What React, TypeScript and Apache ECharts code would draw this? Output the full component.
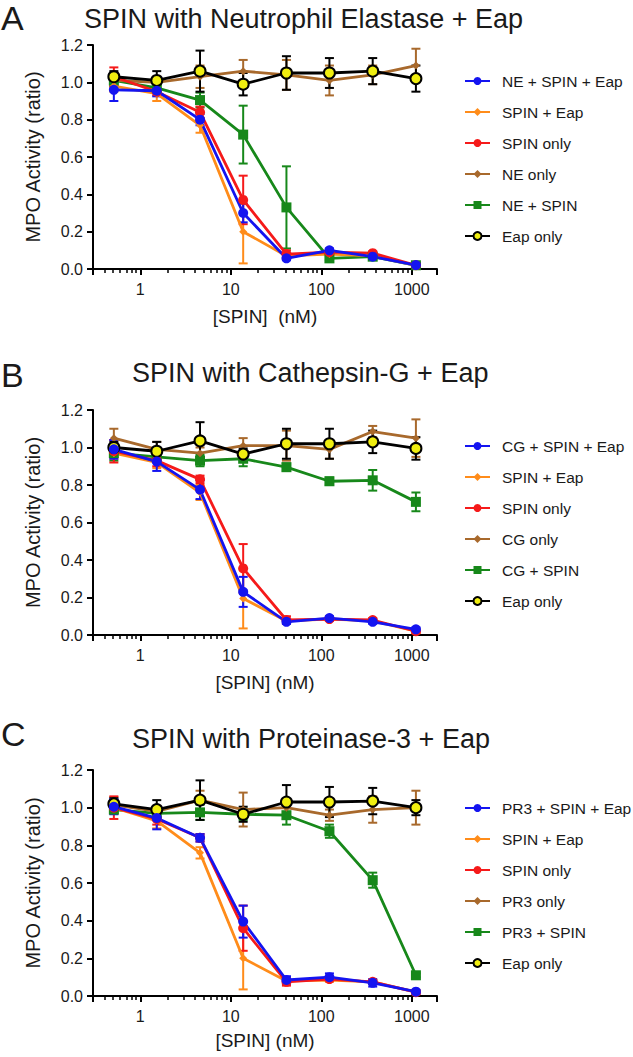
import React, { useEffect, useRef } from "react";
import * as echarts from "echarts";

// ---- data ----
const concentrations = [0.51, 1.52, 4.57, 13.7, 41.2, 123, 370, 1111];
const xTickValues = [1, 10, 100, 1000];
const yTickStep = 0.2;

const panelLetters = ["A", "B", "C"];
const panelTitles = [
  "SPIN with Neutrophil Elastase + Eap",
  "SPIN with Cathepsin-G + Eap",
  "SPIN with Proteinase-3 + Eap",
];
const xAxisNames = ["[SPIN]  (nM)", "[SPIN] (nM)", "[SPIN] (nM)"];
const yAxisName = "MPO Activity (ratio)";

const legendA = ["NE + SPIN + Eap", "SPIN + Eap", "SPIN only", "NE only", "NE + SPIN", "Eap only"];
const legendB = ["CG + SPIN + Eap", "SPIN + Eap", "SPIN only", "CG only", "CG + SPIN", "Eap only"];
const legendC = ["PR3 + SPIN + Eap", "SPIN + Eap", "SPIN only", "PR3 only", "PR3 + SPIN", "Eap only"];

// Panel A means / errors (order: blue, orange, red, brown, green, black)
const aBlue = [0.96, 0.955, 0.8, 0.3, 0.057, 0.1, 0.066, 0.021];
const aBlueErr = [0.06, 0.03, 0.03, 0.05, 0.01, 0.01, 0.01, 0.01];
const aOrange = [0.98, 0.94, 0.77, 0.2, 0.07, 0.08, 0.07, 0.02];
const aOrangeErr = [0.03, 0.04, 0.04, 0.17, 0.01, 0.01, 0.01, 0.01];
const aRed = [1.03, 0.95, 0.84, 0.37, 0.08, 0.09, 0.085, 0.02];
const aRedErr = [0.05, 0.02, 0.03, 0.13, 0.02, 0.01, 0.01, 0.01];
const aBrown = [1.01, 1.0, 1.03, 1.06, 1.04, 1.01, 1.04, 1.09];
const aBrownErr = [0.04, 0.03, 0.06, 0.06, 0.08, 0.08, 0.05, 0.09];
const aGreen = [1.01, 0.97, 0.905, 0.72, 0.33, 0.057, 0.066, 0.02];
const aGreenErr = [0.03, 0.02, 0.04, 0.155, 0.22, 0.01, 0.01, 0.01];
const aBlack = [1.03, 1.01, 1.06, 0.99, 1.05, 1.05, 1.06, 1.02];
const aBlackErr = [0.03, 0.05, 0.11, 0.06, 0.09, 0.08, 0.07, 0.07];

// Panel B
const bBlue = [0.99, 0.925, 0.775, 0.23, 0.07, 0.09, 0.07, 0.03];
const bBlueErr = [0.05, 0.05, 0.05, 0.08, 0.01, 0.01, 0.01, 0.01];
const bOrange = [0.97, 0.92, 0.76, 0.195, 0.075, 0.085, 0.075, 0.02];
const bOrangeErr = [0.03, 0.03, 0.04, 0.16, 0.01, 0.01, 0.01, 0.01];
const bRed = [0.98, 0.93, 0.83, 0.355, 0.08, 0.085, 0.08, 0.02];
const bRedErr = [0.06, 0.03, 0.02, 0.13, 0.02, 0.01, 0.01, 0.01];
const bBrown = [1.05, 0.99, 0.97, 1.01, 1.01, 0.99, 1.085, 1.05];
const bBrownErr = [0.05, 0.04, 0.03, 0.04, 0.08, 0.05, 0.03, 0.1];
const bGreen = [0.97, 0.95, 0.93, 0.94, 0.895, 0.82, 0.825, 0.71];
const bGreenErr = [0.04, 0.02, 0.03, 0.04, 0.02, 0.02, 0.055, 0.05];
const bBlack = [1.0, 0.98, 1.035, 0.965, 1.02, 1.02, 1.03, 0.995];
const bBlackErr = [0.03, 0.05, 0.1, 0.03, 0.08, 0.08, 0.06, 0.06];

// Panel C
const cBlue = [1.005, 0.945, 0.84, 0.395, 0.085, 0.1, 0.07, 0.023];
const cBlueErr = [0.04, 0.06, 0.02, 0.085, 0.02, 0.02, 0.02, 0.01];
const cOrange = [1.0, 0.93, 0.76, 0.2, 0.08, 0.085, 0.075, 0.02];
const cOrangeErr = [0.03, 0.04, 0.03, 0.165, 0.02, 0.01, 0.01, 0.01];
const cRed = [1.0, 0.94, 0.84, 0.36, 0.075, 0.09, 0.075, 0.02];
const cRedErr = [0.06, 0.03, 0.02, 0.12, 0.02, 0.01, 0.01, 0.01];
const cBrown = [1.015, 0.98, 1.04, 0.99, 1.0, 0.96, 0.99, 1.0];
const cBrownErr = [0.04, 0.03, 0.05, 0.09, 0.03, 0.03, 0.07, 0.09];
const cGreen = [0.99, 0.97, 0.975, 0.965, 0.96, 0.875, 0.615, 0.11];
const cGreenErr = [0.02, 0.02, 0.04, 0.03, 0.05, 0.035, 0.04, 0.01];
const cBlack = [1.02, 0.99, 1.04, 0.965, 1.03, 1.03, 1.035, 1.0];
const cBlackErr = [0.03, 0.05, 0.105, 0.04, 0.09, 0.08, 0.07, 0.04];

// ---- styles ----
const FONT = "'Liberation Sans', Arial, sans-serif";
const TEXT = "#1a1a1a";
const styles = [
  { color: "#1414f0", symbol: "circle", size: 10, fill: "#1414f0" }, // blue
  { color: "#ff8c1a", symbol: "diamond", size: 8, fill: "#ff8c1a" }, // orange
  { color: "#f51a1a", symbol: "circle", size: 10, fill: "#f51a1a" }, // red
  { color: "#a8692c", symbol: "diamond", size: 8, fill: "#a8692c" }, // brown
  { color: "#17881a", symbol: "rect", size: 10, fill: "#17881a" }, // green
  { color: "#000000", symbol: "circle", size: 11, fill: "#f0ee10" }, // black/yellow
];
// draw order (last on top)
const drawOrder = [4, 3, 1, 2, 5, 0];

const panels = [
  {
    legend: legendA,
    means: [aBlue, aOrange, aRed, aBrown, aGreen, aBlack],
    errs: [aBlueErr, aOrangeErr, aRedErr, aBrownErr, aGreenErr, aBlackErr],
    gridTop: 45, gridHeight: 224, letterTop: -4, titleTop: 0, titleLeft: 84, legendTop: 73, xNameGap: 38,
  },
  {
    legend: legendB,
    means: [bBlue, bOrange, bRed, bBrown, bGreen, bBlack],
    errs: [bBlueErr, bOrangeErr, bRedErr, bBrownErr, bGreenErr, bBlackErr],
    gridTop: 410, gridHeight: 225, letterTop: 353, titleTop: 354, titleLeft: 132, legendTop: 438, xNameGap: 38,
  },
  {
    legend: legendC,
    means: [cBlue, cOrange, cRed, cBrown, cGreen, cBlack],
    errs: [cBlueErr, cOrangeErr, cRedErr, cBrownErr, cGreenErr, cBlackErr],
    gridTop: 770, gridHeight: 226, letterTop: 712, titleTop: 720, titleLeft: 132, legendTop: 800, xNameGap: 35,
  },
];

function buildOption() {
  const grid: any[] = [];
  const xAxis: any[] = [];
  const yAxis: any[] = [];
  const series: any[] = [];
  const legend: any[] = [];
  const title: any[] = [];

  panels.forEach((p, pi) => {
    grid.push({ left: 93, width: 344, top: p.gridTop, height: p.gridHeight });
    xAxis.push({
      type: "log",
      logBase: 10,
      gridIndex: pi,
      min: 0.3,
      max: 1900,
      name: xAxisNames[pi],
      nameLocation: "middle",
      nameGap: p.xNameGap,
      nameTextStyle: { fontFamily: FONT, fontSize: 19, color: TEXT },
      axisLine: { lineStyle: { color: "#000", width: 2 } },
      axisTick: { show: true, length: 6, lineStyle: { color: "#000", width: 2 } },
      minorTick: { show: true, splitNumber: 9, length: 4, lineStyle: { color: "#000", width: 1.5 } },
      splitLine: { show: false },
      axisLabel: {
        fontFamily: FONT,
        fontSize: 16,
        color: TEXT,
        margin: 12,
        showMinLabel: false,
        showMaxLabel: false,
        formatter: (v: number) => {
          const m = xTickValues.find((t) => Math.abs(t - v) / t < 1e-6);
          return m !== undefined ? String(m) : "";
        },
      },
    });
    yAxis.push({
      type: "value",
      gridIndex: pi,
      min: 0,
      max: 1.2,
      interval: yTickStep,
      name: yAxisName,
      nameLocation: "middle",
      nameGap: 50,
      nameTextStyle: { fontFamily: FONT, fontSize: 20, color: TEXT },
      axisLine: { show: true, lineStyle: { color: "#000", width: 2 } },
      axisTick: { show: true, length: 6, lineStyle: { color: "#000", width: 2 } },
      splitLine: { show: false },
      axisLabel: {
        fontFamily: FONT,
        fontSize: 16,
        color: TEXT,
        margin: 10,
        formatter: (v: number) => v.toFixed(1),
      },
    });
    title.push({
      text: panelTitles[pi],
      left: p.titleLeft,
      top: p.titleTop,
      padding: [5, 0, 5, 0],
      textStyle: { fontFamily: FONT, fontSize: 27, fontWeight: "normal", color: TEXT },
    });
    title.push({
      text: panelLetters[pi],
      left: -4,
      top: p.letterTop,
      textStyle: { fontFamily: FONT, fontSize: 34, fontWeight: "normal", color: TEXT },
    });
    legend.push({
      data: p.legend,
      orient: "vertical",
      left: 464,
      top: p.legendTop,
      padding: 0,
      itemWidth: 25,
      itemHeight: 10,
      itemGap: 15,
      textStyle: { fontFamily: FONT, fontSize: 15.5, color: TEXT, padding: [0, 0, 0, 7] },
      selectedMode: false,
    });

    drawOrder.forEach((si) => {
      const st = styles[si];
      const m = p.means[si];
      const e = p.errs[si];
      const errData = concentrations.map((c, i) => [c, m[i] - e[i], m[i] + e[i]]);
      series.push({
        type: "custom",
        name: `err-${pi}-${si}`,
        xAxisIndex: pi,
        yAxisIndex: pi,
        data: errData,
        encode: { x: 0, y: [1, 2] },
        silent: true,
        renderItem: (params: any, api: any) => {
          const x = api.value(0);
          const lo = api.coord([x, api.value(1)]);
          const hi = api.coord([x, api.value(2)]);
          const cap = 4.5;
          const ls = { stroke: st.color, lineWidth: 2 };
          return {
            type: "group",
            children: [
              { type: "line", shape: { x1: hi[0], y1: hi[1], x2: lo[0], y2: lo[1] }, style: ls },
              { type: "line", shape: { x1: hi[0] - cap, y1: hi[1], x2: hi[0] + cap, y2: hi[1] }, style: ls },
              { type: "line", shape: { x1: lo[0] - cap, y1: lo[1], x2: lo[0] + cap, y2: lo[1] }, style: ls },
            ],
          };
        },
      });
      series.push({
        type: "line",
        name: p.legend[si],
        xAxisIndex: pi,
        yAxisIndex: pi,
        data: concentrations.map((c, i) => [c, m[i]]),
        symbol: st.symbol,
        symbolSize: st.size,
        showAllSymbol: true,
        lineStyle: { color: st.color, width: 2.8 },
        itemStyle: {
          color: st.fill,
          borderColor: st.color,
          borderWidth: si === 5 ? 2 : 0,
          opacity: 1,
        },
        emphasis: { disabled: true },
      });
    });
  });

  return { animation: false, backgroundColor: "#ffffff", grid, xAxis, yAxis, series, legend, title };
}

export default function App() {
  const ref = useRef<HTMLDivElement>(null);
  useEffect(() => {
    if (!ref.current) return;
    const chart = echarts.init(ref.current, undefined, { renderer: "svg" });
    chart.setOption(buildOption() as any);
    return () => chart.dispose();
  }, []);
  return (
    <div
      ref={ref}
      style={{ position: "fixed", left: 0, top: 0, width: 633, height: 1057, background: "#fff" }}
    />
  );
}
